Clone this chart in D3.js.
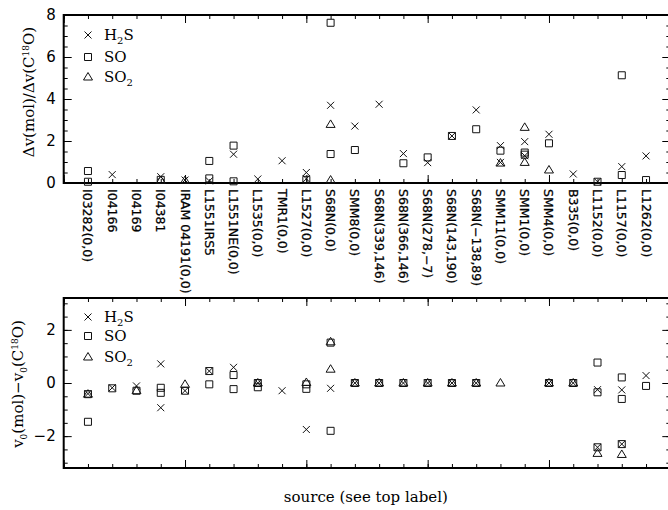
<!DOCTYPE html>
<html>
<head>
<meta charset="utf-8">
<script src="https://cdn.jsdelivr.net/npm/d3@7"></script>
<style>
  body { margin: 0; background: #fff; }
  svg { display: block; }
</style>
</head>
<body>
<script>
// sources along the x axis (positions 1..24)
var sources = ["I03282(0,0)", "I04166", "I04169", "I04381", "IRAM 04191(0,0)", "L1551IRS5",
  "L1551NE(0,0)", "L1535(0,0)", "TMR1(0,0)", "L1527(0,0)", "S68N(0,0)", "SMM8(0,0)",
  "S68N(339,146)", "S68N(366,146)", "S68N(278,\u22127)", "S68N(143,190)", "S68N(\u2212138,89)",
  "SMM11(0,0)", "SMM1(0,0)", "SMM4(0,0)", "B335(0,0)", "L1152(0,0)", "L1157(0,0)", "L1262(0,0)"];

// top panel: line width ratio, one list of values per source
var dvH2S = [[], [0.4], [], [0.3], [0.14], [0.1], [1.37], [0.19], [1.06], [0.5, 0.2], [3.7], [2.71],
  [3.75], [1.4], [0.97], [2.24], [3.48], [1.78, 0.98], [1.97, 1.3], [2.32], [0.43], [0.06], [0.78], [1.29]];
var dvSO = [[0.57, 0.06], [], [], [0.15], [], [1.05, 0.22], [1.78, 0.08], [], [], [0.15], [7.63, 1.38], [1.57],
  [], [0.94], [1.22], [2.24], [2.56], [1.54], [1.45, 1.35], [1.89], [], [0.06], [5.13, 0.38], [0.14]];
var dvSO2 = [[], [], [], [0.12], [0.12], [], [], [], [], [], [2.79, 0.14], [],
  [], [], [], [], [], [0.95], [2.65, 0.98], [0.62], [], [], [], []];

// bottom panel: velocity offset, one list of values per source
var v0H2S = [[-0.4], [-0.18], [-0.11], [0.72, -0.93], [-0.29], [0.45], [0.59], [0], [-0.29], [-1.75], [-0.2], [0],
  [0], [0], [0], [0], [0], [], [], [0], [0], [-0.25, -2.42], [-0.26, -2.3], [0.28]];
var v0SO = [[-0.42, -1.46], [-0.2], [-0.29], [-0.18, -0.37], [-0.29], [0.45, -0.05], [0.3, -0.23], [0, -0.16], [], [-0.05, -0.22], [1.52, -1.8], [0],
  [0], [0], [0], [0], [0], [], [], [0], [0], [0.77, -0.35, -2.42], [0.21, -0.6, -2.3], [-0.11]];
var v0SO2 = [[-0.42], [], [-0.29], [], [-0.05], [], [], [0], [], [0.02], [1.55, 0.52], [0],
  [0], [0], [0], [0], [0], [0], [], [0], [0], [-2.65], [-2.69], []];

var width = 668, height = 510;

var svg = d3.select("body").append("svg")
  .attr("width", width)
  .attr("height", height)
  .style("font-family", "'DejaVu Serif', serif");

var x = d3.scaleLinear().domain([0, 25]).range([63.7, 670.3]);
var yTop = d3.scaleLinear().domain([0, 8]).range([183, 15]);
var yBot = d3.scaleLinear().domain([-3.2, 3.2]).range([468, 298]);

function flatten(list) {
  var out = [];
  list.forEach(function(vals, i) {
    vals.forEach(function(v) { out.push({ i: i + 1, v: v }); });
  });
  return out;
}

function markerPath(kind) {
  if (kind == "x") return "M-3.5,-3.5L3.5,3.5M-3.5,3.5L3.5,-3.5";
  if (kind == "sq") return "M-3.5,-3.5H3.5V3.5H-3.5Z";
  return "M0,-4.5L4.5,3L-4.5,3Z";
}

function drawPanel(y, minorStep, series, legendY) {
  var g = svg.append("g");
  var x0 = x.range()[0], x1 = x.range()[1];
  var yA = y.range()[0], yB = y.range()[1];
  var dom = y.domain();

  // x ticks (minor at every source, major every 5)
  [[d3.range(0, 26), 4], [d3.range(0, 26, 5), 8]].forEach(function(t) {
    g.append("g").attr("transform", "translate(0," + yA + ")")
      .call(d3.axisBottom(x).tickValues(t[0]).tickSize(-t[1]).tickFormat(""));
    g.append("g").attr("transform", "translate(0," + yB + ")")
      .call(d3.axisTop(x).tickValues(t[0]).tickSize(-t[1]).tickFormat(""));
  });

  var minorVals = d3.range(Math.ceil(dom[0] / minorStep) * minorStep, dom[1] + 1e-6, minorStep);
  var majorVals = d3.range(Math.ceil(dom[0] / 2) * 2, dom[1] + 1e-6, 2);
  [[minorVals, 4, ""], [majorVals, 8, null]].forEach(function(t) {
    g.append("g").attr("transform", "translate(" + x0 + ",0)")
      .attr("class", t[2] === null ? "ylab" : "")
      .call(d3.axisLeft(y).tickValues(t[0]).tickSize(-t[1]).tickPadding(8)
        .tickFormat(t[2] === null ? d3.format("d") : function() { return ""; }));
    g.append("g").attr("transform", "translate(" + x1 + ",0)")
      .call(d3.axisRight(y).tickValues(t[0]).tickSize(-t[1]).tickFormat(""));
  });
  g.selectAll(".domain").remove();
  g.selectAll(".tick line").attr("stroke", "#000").attr("stroke-width", 1);
  g.selectAll(".ylab text")
    .style("font-family", "'DejaVu Sans', sans-serif")
    .style("font-size", "15px")
    .attr("fill", "#000");

  g.append("rect")
    .attr("x", x0).attr("y", yB)
    .attr("width", x1 - x0).attr("height", yA - yB)
    .attr("fill", "none").attr("stroke", "#000").attr("stroke-width", 2);

  series.forEach(function(s) {
    g.selectAll(null)
      .data(flatten(s.values))
      .enter().append("path")
      .attr("d", markerPath(s.kind))
      .attr("transform", function(d) { return "translate(" + x(d.i) + "," + y(d.v) + ")"; })
      .attr("fill", "none")
      .attr("stroke", "#111")
      .attr("stroke-width", 1);
  });

  // legend
  series.forEach(function(s, k) {
    var ly = legendY[k];
    g.append("path")
      .attr("d", markerPath(s.kind))
      .attr("transform", "translate(88," + ly + ")")
      .attr("fill", "none").attr("stroke", "#111");
    var t = g.append("text")
      .attr("x", 104).attr("y", ly + 5)
      .style("font-size", "15px");
    t.append("tspan").text(s.name[0]);
    if (s.name[1]) {
      t.append("tspan").attr("dy", 4).style("font-size", "10px").text(s.name[1]);
      t.append("tspan").attr("dy", -4).text(s.name[2]);
    }
  });
  return g;
}

drawPanel(yTop, 0.5, [
  { name: ["H", "2", "S"], kind: "x", values: dvH2S },
  { name: ["SO"], kind: "sq", values: dvSO },
  { name: ["SO", "2", ""], kind: "tri", values: dvSO2 }
], [35, 57, 77]);

drawPanel(yBot, 0.5, [
  { name: ["H", "2", "S"], kind: "x", values: v0H2S },
  { name: ["SO"], kind: "sq", values: v0SO },
  { name: ["SO", "2", ""], kind: "tri", values: v0SO2 }
], [317, 336, 357]);

// source names, written downward below the top panel
svg.append("g").selectAll("text")
  .data(sources)
  .enter().append("text")
  .attr("transform", function(d, i) { return "translate(" + x(i + 1) + ",189) rotate(90)"; })
  .attr("dy", "0.36em")
  .style("font-family", "'DejaVu Sans', sans-serif")
  .style("font-size", "12.5px")
  .attr("fill", "#000")
  .attr("stroke", "#000")
  .attr("stroke-width", 0.25)
  .text(function(d) { return d; });

// y axis titles
var t1 = svg.append("text")
  .attr("transform", "translate(34,92) rotate(-90)")
  .attr("text-anchor", "middle")
  .style("font-size", "15px");
t1.append("tspan").text("\u0394v(mol)/\u0394v(C");
t1.append("tspan").attr("dy", -5).style("font-size", "9px").text("18");
t1.append("tspan").attr("dy", 5).text("O)");

var t2 = svg.append("text")
  .attr("transform", "translate(23,384) rotate(-90)")
  .attr("text-anchor", "middle")
  .style("font-size", "15px");
t2.append("tspan").text("v");
t2.append("tspan").attr("dy", 4).style("font-size", "9px").text("0");
t2.append("tspan").attr("dy", -4).text("(mol)\u2212v");
t2.append("tspan").attr("dy", 4).style("font-size", "9px").text("0");
t2.append("tspan").attr("dy", -4).text("(C");
t2.append("tspan").attr("dy", -5).style("font-size", "9px").text("18");
t2.append("tspan").attr("dy", 5).text("O)");

svg.append("text")
  .attr("x", (x.range()[0] + 668) / 2)
  .attr("y", 502)
  .attr("text-anchor", "middle")
  .style("font-size", "15px")
  .text("source (see top label)");
</script>
</body>
</html>
